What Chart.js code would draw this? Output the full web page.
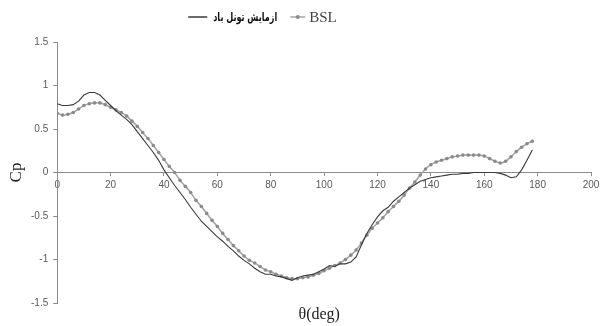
<!DOCTYPE html>
<html>
<head>
<meta charset="utf-8">
<script src="https://cdn.jsdelivr.net/npm/chart.js@4/dist/chart.umd.min.js"></script>
<style>
  html, body { margin: 0; padding: 0; background: #fff; }
  #wrap { width: 607px; height: 326px; position: relative; }
</style>
</head>
<body>
<div id="wrap"><canvas id="cpChart"></canvas></div>
<script>
// angle around the cylinder (deg), same sampling for both series
const thetaDeg = [0, 2, 4, 6, 8, 10, 12, 14, 16, 18, 20, 22, 24, 26, 28, 30, 32, 34, 36, 38,
    40, 42, 44, 46, 48, 50, 52, 54, 56, 58, 60, 62, 64, 66, 68, 70, 72, 74, 76, 78,
    80, 82, 84, 86, 88, 90, 92, 94, 96, 98, 100, 102, 104, 106, 108, 110, 112, 114, 116, 118,
    120, 122, 124, 126, 128, 130, 132, 134, 136, 138, 140, 142, 144, 146, 148, 150, 152, 154, 156, 158,
    160, 162, 164, 166, 168, 170, 172, 174, 176, 178];

// wind tunnel measurement
const tunnelCp = [0.79, 0.77, 0.77, 0.78, 0.82, 0.89, 0.92, 0.92, 0.89, 0.83,
    0.77, 0.71, 0.66, 0.61, 0.55, 0.47, 0.39, 0.31, 0.23, 0.14,
    0.03, -0.06, -0.15, -0.23, -0.31, -0.40, -0.48, -0.56, -0.62, -0.68,
    -0.74, -0.79, -0.85, -0.90, -0.96, -1.01, -1.05, -1.10, -1.14, -1.17,
    -1.17, -1.19, -1.20, -1.22, -1.24, -1.21, -1.19, -1.18, -1.17, -1.14,
    -1.11, -1.07, -1.08, -1.05, -1.05, -1.03, -0.97, -0.83, -0.70, -0.60,
    -0.51, -0.44, -0.40, -0.33, -0.28, -0.23, -0.18, -0.14, -0.10, -0.08,
    -0.06, -0.05, -0.04, -0.03, -0.02, -0.02, -0.01, -0.01, 0.00, 0.00,
    0.00, 0.00, 0.00, -0.01, -0.03, -0.06, -0.05, 0.03, 0.14, 0.26];

// BSL model
const bslCp = [0.68, 0.66, 0.67, 0.69, 0.73, 0.77, 0.79, 0.80, 0.80, 0.78,
    0.75, 0.72, 0.69, 0.65, 0.59, 0.53, 0.46, 0.39, 0.31, 0.23,
    0.15, 0.07, 0.00, -0.09, -0.16, -0.23, -0.32, -0.39, -0.47, -0.55,
    -0.62, -0.70, -0.77, -0.84, -0.90, -0.96, -1.01, -1.04, -1.08, -1.12,
    -1.14, -1.17, -1.19, -1.21, -1.22, -1.22, -1.21, -1.20, -1.18, -1.16,
    -1.13, -1.10, -1.07, -1.04, -1.00, -0.95, -0.89, -0.81, -0.72, -0.64,
    -0.58, -0.52, -0.45, -0.39, -0.33, -0.26, -0.18, -0.11, -0.03, 0.04,
    0.09, 0.12, 0.14, 0.16, 0.18, 0.19, 0.20, 0.20, 0.20, 0.20,
    0.19, 0.16, 0.13, 0.11, 0.13, 0.18, 0.24, 0.29, 0.33, 0.36];

const seriesLabels = ['ازمایش تونل باد', 'BSL'];
const xTicks = [0, 20, 40, 60, 80, 100, 120, 140, 160, 180, 200];
const yTicks = [-1.5, -1, -0.5, 0, 0.5, 1, 1.5];
const xTitle = 'θ(deg)';

const AXIS_COLOR = '#8c8c8c';
const TICK_FONT = { family: "'Liberation Sans', Arial, sans-serif", size: 10 };
const SERIF = "'Liberation Serif', 'Times New Roman', serif";

function toPoints(ys) {
    return thetaDeg.map((t, i) => ({ x: t, y: ys[i] }));
}

// legend (marker left of text, like the original) and the x title under the plot
const decorPlugin = {
    id: 'decor',
    afterDraw(chart) {
        const ctx = chart.ctx;
        const area = chart.chartArea;
        const ds = chart.data.datasets;
        const y = 17;
        ctx.save();
        ctx.direction = 'ltr';
        ctx.textBaseline = 'middle';
        ctx.textAlign = 'left';

        // item 1: solid line + Persian label, squeezed to the original width
        let x = area.left + 131;
        ctx.strokeStyle = ds[0].borderColor;
        ctx.lineWidth = 1.5;
        ctx.beginPath();
        ctx.moveTo(x, y);
        ctx.lineTo(x + 19, y);
        ctx.stroke();
        ctx.fillStyle = '#111';
        ctx.font = "bold 12px 'DejaVu Sans Condensed', 'DejaVu Sans', sans-serif";
        const w = ctx.measureText(ds[0].label).width;
        const sx = Math.min(1, 64 / w);
        ctx.save();
        ctx.translate(x + 25, y + 1);
        ctx.scale(sx, 1);
        ctx.fillText(ds[0].label, 0, 0);
        ctx.restore();
        x += 25 + w * sx + 13;

        // item 2: grey line with marker + BSL
        ctx.strokeStyle = ds[1].borderColor;
        ctx.lineWidth = 1.5;
        ctx.beginPath();
        ctx.moveTo(x, y);
        ctx.lineTo(x + 15, y);
        ctx.stroke();
        ctx.fillStyle = ds[1].pointBackgroundColor;
        ctx.beginPath();
        ctx.arc(x + 7.5, y, 2, 0, Math.PI * 2);
        ctx.fill();
        ctx.fillStyle = '#444';
        ctx.font = '15px ' + SERIF;
        ctx.fillText(ds[1].label, x + 19, y + 1);

        // x title
        ctx.textAlign = 'center';
        ctx.fillStyle = '#222';
        ctx.font = '16px ' + SERIF;
        ctx.fillText(xTitle, area.left + 262, 315);
        ctx.restore();
    }
};

new Chart(document.getElementById('cpChart'), {
    type: 'line',
    data: {
        datasets: [{
            label: seriesLabels[0],
            data: toPoints(tunnelCp),
            borderColor: '#3a3a3a',
            backgroundColor: '#3a3a3a',
            borderWidth: 1.1,
            pointRadius: 0,
            tension: 0
        }, {
            label: seriesLabels[1],
            data: toPoints(bslCp),
            borderColor: '#a6a6a6',
            backgroundColor: '#a6a6a6',
            borderWidth: 1.6,
            pointRadius: 1.8,
            pointBackgroundColor: '#8a8a8a',
            pointBorderWidth: 0,
            tension: 0.2
        }]
    },
    options: {
        responsive: true,
        maintainAspectRatio: false,
        animation: false,
        layout: { padding: { left: 8, right: 16, top: 42, bottom: 23 } },
        scales: {
            x: {
                type: 'linear',
                min: 0,
                max: 200,
                position: { y: 0 },
                afterBuildTicks: axis => { axis.ticks = xTicks.map(v => ({ value: v })); },
                ticks: { color: '#595959', font: TICK_FONT, padding: 4 },
                grid: { drawOnChartArea: false, drawTicks: true, tickLength: 3, color: AXIS_COLOR },
                border: { display: true, color: AXIS_COLOR, width: 1 }
            },
            y: {
                min: -1.5,
                max: 1.5,
                afterBuildTicks: axis => { axis.ticks = yTicks.map(v => ({ value: v })); },
                ticks: {
                    color: '#595959',
                    font: TICK_FONT,
                    padding: 5,
                    callback: v => String(v)
                },
                grid: { drawOnChartArea: false, drawTicks: true, tickLength: 4, color: AXIS_COLOR },
                border: { display: true, color: AXIS_COLOR, width: 1 },
                title: {
                    display: true,
                    text: 'Cp',
                    color: '#222',
                    font: { family: SERIF, size: 17, lineHeight: 1 },
                    padding: { top: 0, bottom: 1 }
                }
            }
        },
        plugins: {
            legend: { display: false },
            title: { display: false },
            tooltip: { enabled: false }
        }
    },
    plugins: [decorPlugin]
});
</script>
</body>
</html>
